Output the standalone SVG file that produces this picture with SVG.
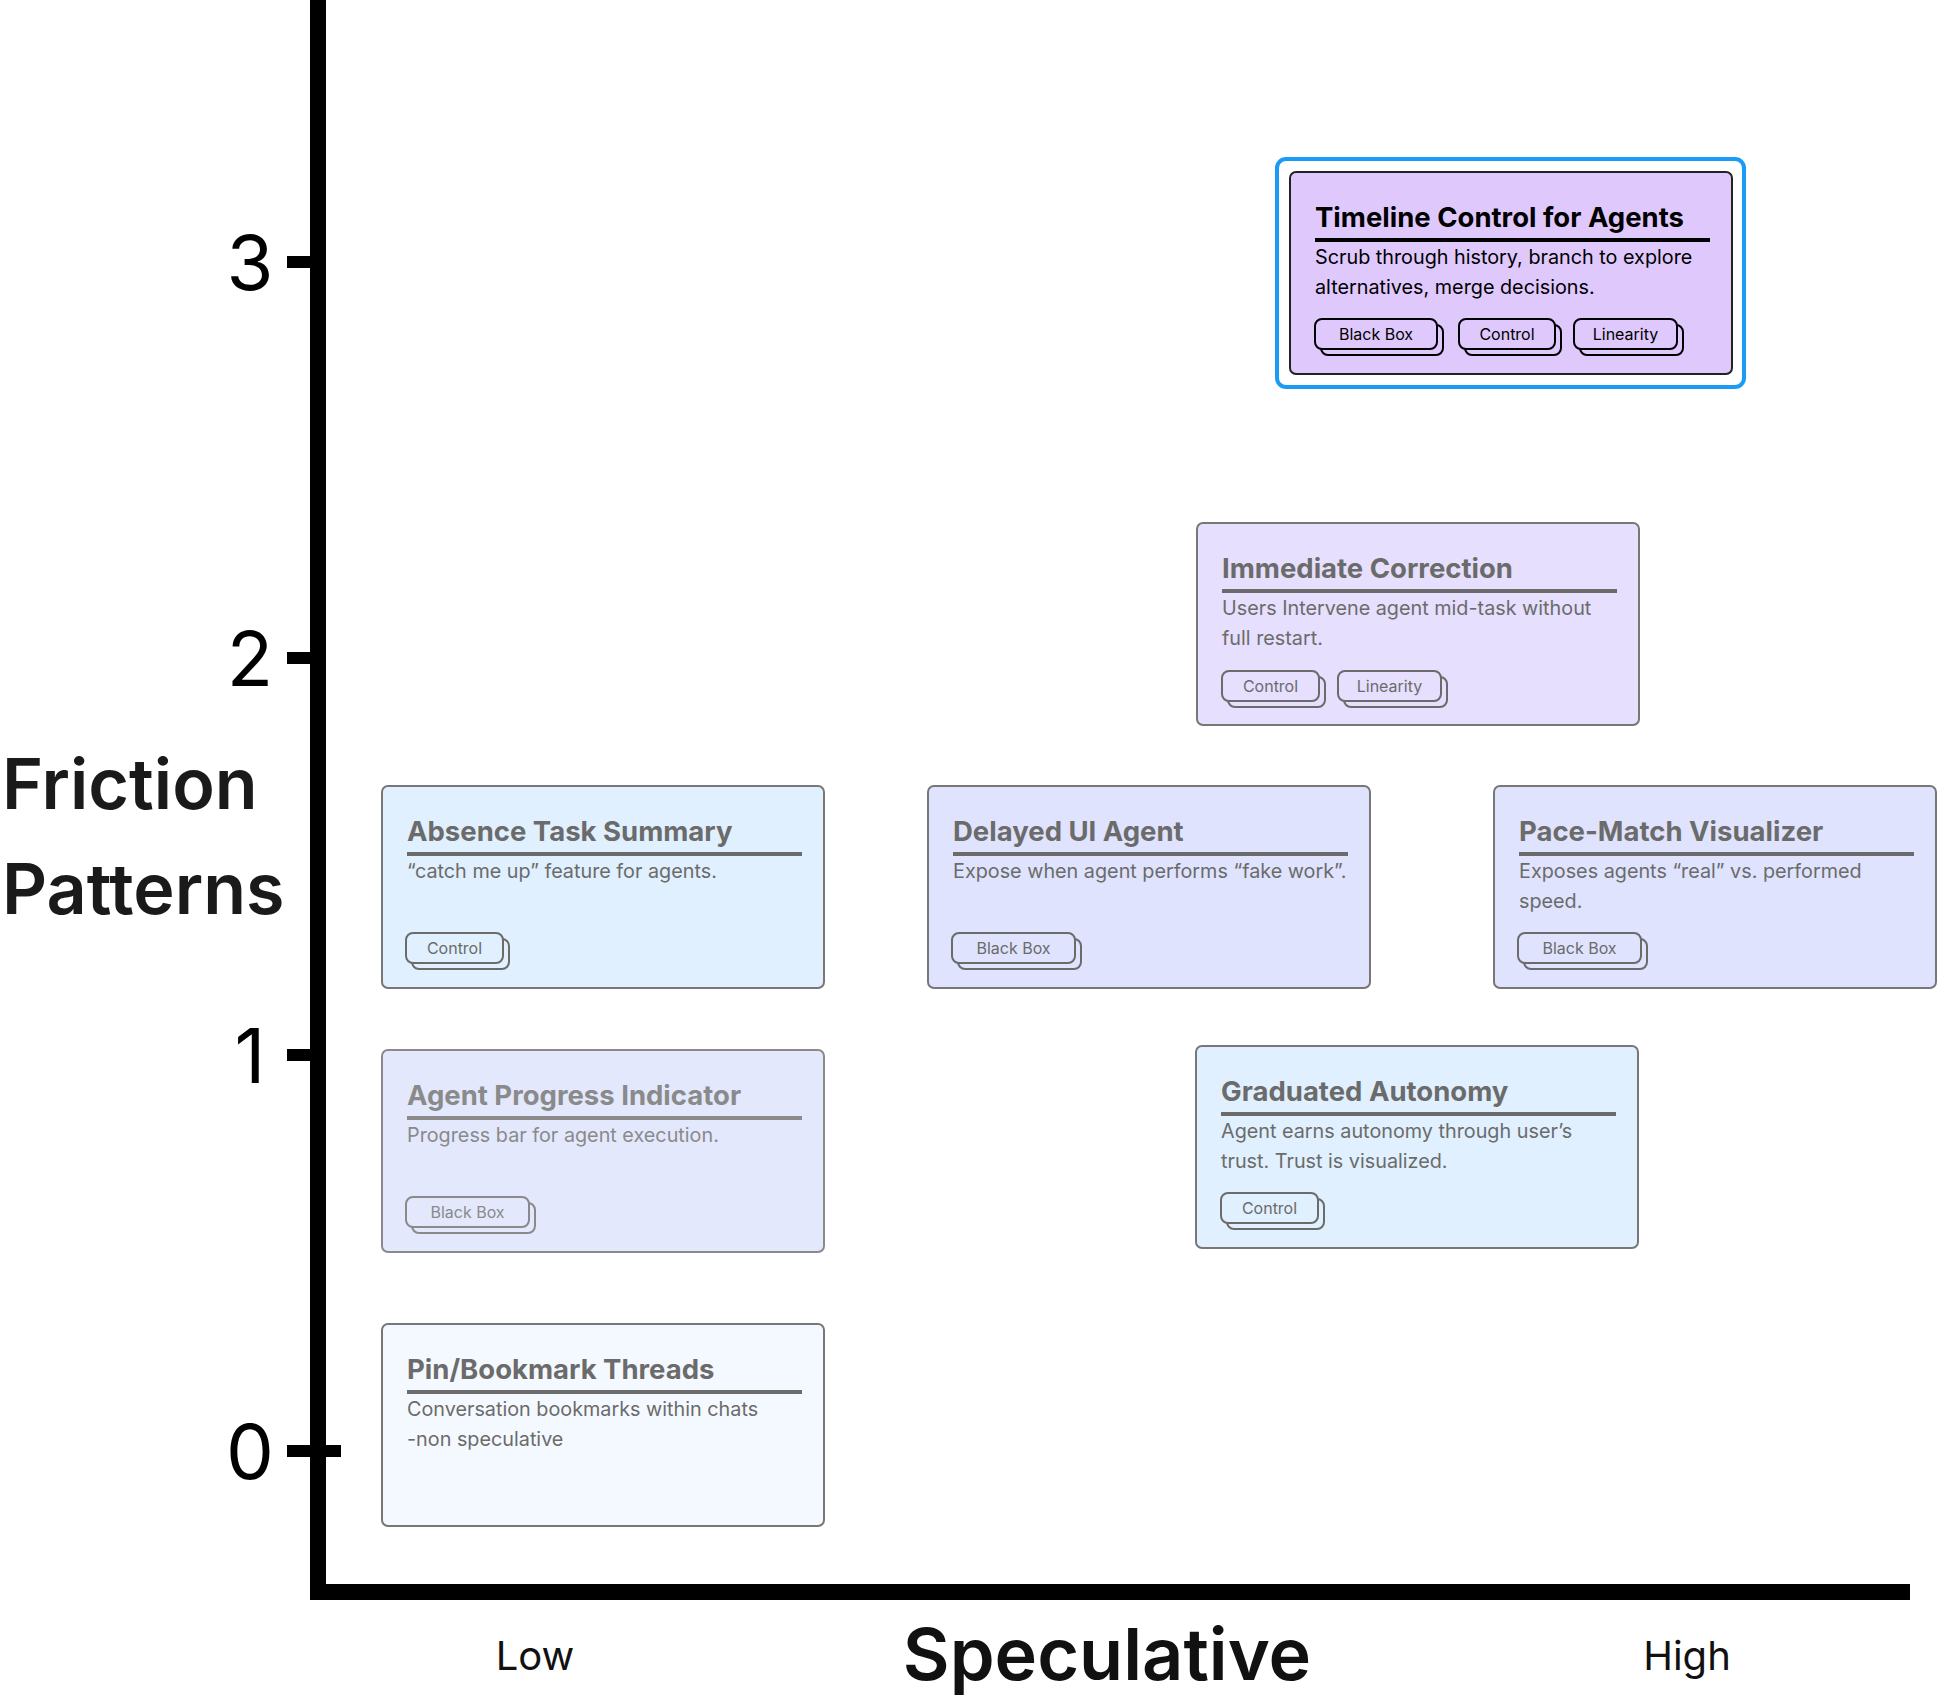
<svg xmlns="http://www.w3.org/2000/svg" width="1937" height="1708" viewBox="0 0 1937 1708">
<style>
  text { font-family: Inter, "Noto Sans", "Liberation Sans", sans-serif; }
  .card { stroke: #777; stroke-width: 2; }
  .title { font-size: 27.5px; font-weight: 700; fill: #6b6b6b; }
  .desc { font-size: 19.8px; font-weight: 400; fill: #6b6b6b; }
  .rule { stroke: #6b6b6b; stroke-width: 4; }
  .tag rect { stroke: #6b6b6b; stroke-width: 2; }
  .tag text { font-size: 16px; fill: #6b6b6b; text-anchor: middle; }
  .dark .card { stroke: #222; }
  .dark .title, .dark .desc, .dark .tag text { fill: #000; }
  .dark .rule, .dark .tag rect { stroke: #000; }
  .light .title, .light .desc, .light .tag text { fill: #8a8a8a; }
  .light .rule, .light .tag rect { stroke: #8a8a8a; }
  .light .card { stroke: #8a8a8a; }
  .axis { stroke: #000; stroke-width: 16; fill: none; }
  .tick { stroke: #000; stroke-width: 12; }
  .num { font-size: 76px; fill: #000; text-anchor: middle; }
  .ylabel { font-size: 70px; font-weight: 600; fill: #1a1a1a; }
  .xend { font-size: 40px; fill: #111; text-anchor: middle; }
  .xlabel { font-size: 72px; font-weight: 600; fill: #111; text-anchor: middle; }
</style>

<g id="axes">
  <path class="axis" d="M318 0 V1592 H1910"/>
  <line class="tick" x1="287" y1="262" x2="318" y2="262"/>
  <line class="tick" x1="287" y1="658" x2="318" y2="658"/>
  <line class="tick" x1="287" y1="1055" x2="318" y2="1055"/>
  <line class="tick" x1="287" y1="1451" x2="341" y2="1451"/>
  <text class="num" x="250" y="290">3</text>
  <text class="num" x="250" y="686">2</text>
  <text class="num" x="250" y="1083">1</text>
  <text class="num" x="250" y="1479">0</text>
  <text class="ylabel" x="2" y="809">Friction</text>
  <text class="ylabel" x="2" y="914">Patterns</text>
  <text class="xend" x="535" y="1670">Low</text>
  <text class="xlabel" x="1107" y="1680">Speculative</text>
  <text class="xend" x="1687" y="1670">High</text>
</g>

<g id="connectors"></g>

<g id="node-timeline" class="dark">
  <rect x="1277" y="159" width="467" height="228" rx="9" fill="none" stroke="#1a9bf5" stroke-width="4"/>
  <rect class="card" x="1290" y="172" width="442" height="202" rx="6" fill="#dfc8fc"/>
  <text class="title" x="1315" y="227">Timeline Control for Agents</text>
  <line class="rule" x1="1315" y1="240" x2="1710" y2="240"/>
  <text class="desc" x="1315" y="264">Scrub through history, branch to explore</text>
  <text class="desc" x="1315" y="294">alternatives, merge decisions.</text>
  <g class="tag"><rect x="1321" y="325" width="122" height="30" rx="7" fill="#dfc8fc"/><rect x="1315" y="319" width="122" height="30" rx="7" fill="#dfc8fc"/><text x="1376" y="340">Black Box</text></g>
  <g class="tag"><rect x="1465" y="325" width="96" height="30" rx="7" fill="#dfc8fc"/><rect x="1459" y="319" width="96" height="30" rx="7" fill="#dfc8fc"/><text x="1507" y="340">Control</text></g>
  <g class="tag"><rect x="1580" y="325" width="103" height="30" rx="7" fill="#dfc8fc"/><rect x="1574" y="319" width="103" height="30" rx="7" fill="#dfc8fc"/><text x="1625.5" y="340">Linearity</text></g>
</g>

<g id="node-immediate-correction">
  <rect class="card" x="1197" y="523" width="442" height="202" rx="6" fill="#e6dffd"/>
  <text class="title" x="1222" y="578">Immediate Correction</text>
  <line class="rule" x1="1222" y1="591" x2="1617" y2="591"/>
  <text class="desc" x="1222" y="615">Users Intervene agent mid-task without</text>
  <text class="desc" x="1222" y="645">full restart.</text>
  <g class="tag"><rect x="1228" y="677" width="97" height="30" rx="7" fill="#e6dffd"/><rect x="1222" y="671" width="97" height="30" rx="7" fill="#e6dffd"/><text x="1270.5" y="692">Control</text></g>
  <g class="tag"><rect x="1344" y="677" width="103" height="30" rx="7" fill="#e6dffd"/><rect x="1338" y="671" width="103" height="30" rx="7" fill="#e6dffd"/><text x="1389.5" y="692">Linearity</text></g>
</g>

<g id="node-absence-task-summary">
  <rect class="card" x="382" y="786" width="442" height="202" rx="6" fill="#e0f0fe"/>
  <text class="title" x="407" y="841">Absence Task Summary</text>
  <line class="rule" x1="407" y1="854" x2="802" y2="854"/>
  <text class="desc" x="407" y="878">“catch me up” feature for agents.</text>
  <g class="tag"><rect x="412" y="939" width="97" height="30" rx="7" fill="#e0f0fe"/><rect x="406" y="933" width="97" height="30" rx="7" fill="#e0f0fe"/><text x="454.5" y="954">Control</text></g>
</g>

<g id="node-delayed-ui-agent">
  <rect class="card" x="928" y="786" width="442" height="202" rx="6" fill="#dfe3fd"/>
  <text class="title" x="953" y="841">Delayed UI Agent</text>
  <line class="rule" x1="953" y1="854" x2="1348" y2="854"/>
  <text class="desc" x="953" y="878">Expose when agent performs “fake work”.</text>
  <g class="tag"><rect x="958" y="939" width="123" height="30" rx="7" fill="#dfe3fd"/><rect x="952" y="933" width="123" height="30" rx="7" fill="#dfe3fd"/><text x="1013.5" y="954">Black Box</text></g>
</g>

<g id="node-pace-match-visualizer">
  <rect class="card" x="1494" y="786" width="442" height="202" rx="6" fill="#dfe3fd"/>
  <text class="title" x="1519" y="841">Pace-Match Visualizer</text>
  <line class="rule" x1="1519" y1="854" x2="1914" y2="854"/>
  <text class="desc" x="1519" y="878">Exposes agents “real” vs. performed</text>
  <text class="desc" x="1519" y="908">speed.</text>
  <g class="tag"><rect x="1524" y="939" width="123" height="30" rx="7" fill="#dfe3fd"/><rect x="1518" y="933" width="123" height="30" rx="7" fill="#dfe3fd"/><text x="1579.5" y="954">Black Box</text></g>
</g>

<g id="node-agent-progress-indicator" class="light">
  <rect class="card" x="382" y="1050" width="442" height="202" rx="6" fill="#e3e8fd"/>
  <text class="title" x="407" y="1105">Agent Progress Indicator</text>
  <line class="rule" x1="407" y1="1118" x2="802" y2="1118"/>
  <text class="desc" x="407" y="1142">Progress bar for agent execution.</text>
  <g class="tag"><rect x="412" y="1203" width="123" height="30" rx="7" fill="#e3e8fd"/><rect x="406" y="1197" width="123" height="30" rx="7" fill="#e3e8fd"/><text x="467.5" y="1218">Black Box</text></g>
</g>

<g id="node-graduated-autonomy">
  <rect class="card" x="1196" y="1046" width="442" height="202" rx="6" fill="#e0f0fe"/>
  <text class="title" x="1221" y="1101">Graduated Autonomy</text>
  <line class="rule" x1="1221" y1="1114" x2="1616" y2="1114"/>
  <text class="desc" x="1221" y="1138">Agent earns autonomy through user’s</text>
  <text class="desc" x="1221" y="1168">trust. Trust is visualized.</text>
  <g class="tag"><rect x="1227" y="1199" width="97" height="30" rx="7" fill="#e0f0fe"/><rect x="1221" y="1193" width="97" height="30" rx="7" fill="#e0f0fe"/><text x="1269.5" y="1214">Control</text></g>
</g>

<g id="node-pin-bookmark-threads">
  <rect class="card" x="382" y="1324" width="442" height="202" rx="6" fill="#f4f9ff"/>
  <text class="title" x="407" y="1379">Pin/Bookmark Threads</text>
  <line class="rule" x1="407" y1="1392" x2="802" y2="1392"/>
  <text class="desc" x="407" y="1416">Conversation bookmarks within chats</text>
  <text class="desc" x="407" y="1446">-non speculative</text>
</g>
</svg>
